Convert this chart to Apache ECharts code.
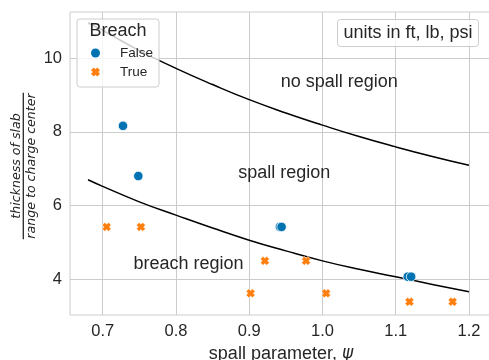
<!DOCTYPE html>
<html>
<head>
<meta charset="utf-8">
<script src="https://cdn.jsdelivr.net/npm/echarts@6/dist/echarts.min.js"></script>
<style>
  html, body { margin: 0; padding: 0; background: #ffffff; }
  #chart { width: 489px; height: 360px; }
</style>
</head>
<body>
<div id="chart"></div>
<script>
// Test shots: spall parameter psi vs. thickness / range ratio
const noBreachPsi   = [0.7277, 0.7486, 0.9419, 0.9442, 1.1164, 1.1210];
const noBreachRatio = [8.16, 6.80, 5.42, 5.42, 4.07, 4.07];
const breachPsi     = [0.7054, 0.7522, 0.9019, 0.9214, 0.9776, 1.0050, 1.1187, 1.1777];
const breachRatio   = [5.42, 5.42, 3.62, 4.50, 4.50, 3.62, 3.39, 3.39];

// Threshold curves separating the three regions
const curvePsi    = [0.68, 0.70, 0.75, 0.80, 0.85, 0.90, 0.95, 1.00, 1.05, 1.10, 1.15, 1.20];
const spallLimit  = [10.95, 10.75, 10.20, 9.72, 9.28, 8.87, 8.51, 8.18, 7.87, 7.59, 7.33, 7.09];
const breachLimit = [6.70, 6.52, 6.10, 5.74, 5.39, 5.06, 4.77, 4.50, 4.27, 4.07, 3.86, 3.66];

// Axis ticks
const xTicks = [0.7, 0.8, 0.9, 1.0, 1.1, 1.2];
const yTicks = [4, 6, 8, 10];

// Region labels, anchored at their left/middle in data coordinates
const regionText  = ['no spall region', 'spall region', 'breach region'];
const regionPsi   = [0.943, 0.885, 0.742];
const regionRatio = [9.36, 6.87, 4.42];

const TEXT = '#262626';
const GRIDC = '#cccccc';
const SANS = '"Liberation Sans", Arial, sans-serif';
const BLUE = '#0173b2';
const ORANGE = '#ff7f0e';
const X_MARK = 'path://M0,3 L3,0 L5,2 L7,0 L10,3 L8,5 L10,7 L7,10 L5,8 L3,10 L0,7 L2,5 Z';

const zip = (a, b) => a.map((v, i) => [v, b[i]]);

const chart = echarts.init(document.getElementById('chart'), null, { renderer: 'canvas' });

const option = {
  animation: false,
  backgroundColor: '#ffffff',
  grid: {
    left: 70, top: 12, right: -3, bottom: 45,
    outerBoundsMode: 'none',
    containLabel: false,
    show: true, borderColor: GRIDC, borderWidth: 1, backgroundColor: 'transparent'
  },
  xAxis: {
    type: 'value',
    min: 0.65537, max: 1.2314,
    axisLine: { show: false },
    axisTick: { show: false, customValues: xTicks },
    splitLine: { show: true, lineStyle: { color: GRIDC, width: 1 } },
    axisLabel: {
      customValues: xTicks,
      formatter: v => v.toFixed(1),
      color: TEXT, fontFamily: SANS, fontSize: 16.5, margin: 8
    },
    name: 'spall parameter, {i|ψ}',
    nameLocation: 'middle',
    nameGap: 27,
    nameTextStyle: {
      color: TEXT, fontFamily: SANS, fontSize: 18,
      rich: { i: { fontFamily: '"DejaVu Sans", sans-serif', fontStyle: 'italic', fontSize: 17, color: TEXT } }
    }
  },
  yAxis: {
    type: 'value',
    min: 3.032, max: 11.247,
    axisLine: { show: false },
    axisTick: { show: false, customValues: yTicks },
    splitLine: { show: true, lineStyle: { color: GRIDC, width: 1 } },
    axisLabel: {
      customValues: yTicks,
      formatter: v => String(v),
      color: TEXT, fontFamily: SANS, fontSize: 16.5, margin: 8
    }
  },
  legend: {
    data: ['False', 'True'],
    orient: 'vertical',
    left: 77, top: 19,
    padding: [27, 6, 8, 14],
    itemWidth: 9, itemHeight: 9,
    itemGap: 5,
    itemStyle: { borderWidth: 0 },
    backgroundColor: 'rgba(255,255,255,0.8)',
    borderColor: GRIDC, borderWidth: 1, borderRadius: 3,
    textStyle: { color: TEXT, fontFamily: SANS, fontSize: 13.5, lineHeight: 14, padding: [0, 0, 0, 15] }
  },
  series: [
    {
      name: 'spall limit', type: 'line', data: zip(curvePsi, spallLimit),
      smooth: true, showSymbol: false, silent: true, z: 2,
      lineStyle: { color: '#000000', width: 1.5 }
    },
    {
      name: 'breach limit', type: 'line', data: zip(curvePsi, breachLimit),
      smooth: true, showSymbol: false, silent: true, z: 2,
      lineStyle: { color: '#000000', width: 1.5 }
    },
    {
      name: 'False', type: 'scatter', data: zip(noBreachPsi, noBreachRatio),
      symbol: 'circle', symbolSize: 9.5, z: 3,
      itemStyle: { color: BLUE, borderColor: '#ffffff', borderWidth: 0.8, opacity: 1 }
    },
    {
      name: 'True', type: 'scatter', data: zip(breachPsi, breachRatio),
      symbol: X_MARK, symbolSize: 9, z: 3,
      itemStyle: { color: ORANGE, borderColor: '#ffffff', borderWidth: 0.5, opacity: 1 }
    }
  ]
};

chart.setOption(option);

// Overlay text: legend title, region labels, unit note and the fraction-style y label
function drawOverlay() {
  const elements = [];
  elements.push({
    type: 'text', z: 100, x: 118, y: 31.5,
    style: { text: 'Breach', fill: TEXT, font: '18px ' + SANS, align: 'center', verticalAlign: 'middle' }
  });
  regionText.forEach((t, i) => {
    const p = chart.convertToPixel({ gridIndex: 0 }, [regionPsi[i], regionRatio[i]]);
    elements.push({
      type: 'text', z: 50, x: p[0], y: p[1],
      style: { text: t, fill: TEXT, font: '18px ' + SANS, align: 'left', verticalAlign: 'middle' }
    });
  });
  elements.push({
    type: 'rect', z: 60,
    shape: { x: 337.5, y: 19.5, width: 141, height: 27, r: 3 },
    style: { fill: 'rgba(255,255,255,0.8)', stroke: GRIDC, lineWidth: 1 }
  });
  elements.push({
    type: 'text', z: 61, x: 408, y: 33,
    style: { text: 'units in ft, lb, psi', fill: TEXT, font: '18px ' + SANS, align: 'center', verticalAlign: 'middle' }
  });
  const MATH = 'italic 12.6px "DejaVu Sans", sans-serif';
  elements.push({
    type: 'group', z: 50, x: 23.3, y: 166, rotation: Math.PI / 2,
    children: [
      { type: 'text', x: 0, y: -6.4,
        style: { text: 'thickness of slab', fill: TEXT, font: MATH, align: 'center', verticalAlign: 'middle' } },
      { type: 'line', shape: { x1: -73.3, y1: 0, x2: 73.3, y2: 0 },
        style: { stroke: TEXT, lineWidth: 1.3 } },
      { type: 'text', x: 0, y: 8.5,
        style: { text: 'range to charge center', fill: TEXT, font: MATH, align: 'center', verticalAlign: 'middle' } }
    ]
  });
  chart.setOption({ graphic: { elements: elements } });
}
drawOverlay();
</script>
</body>
</html>
